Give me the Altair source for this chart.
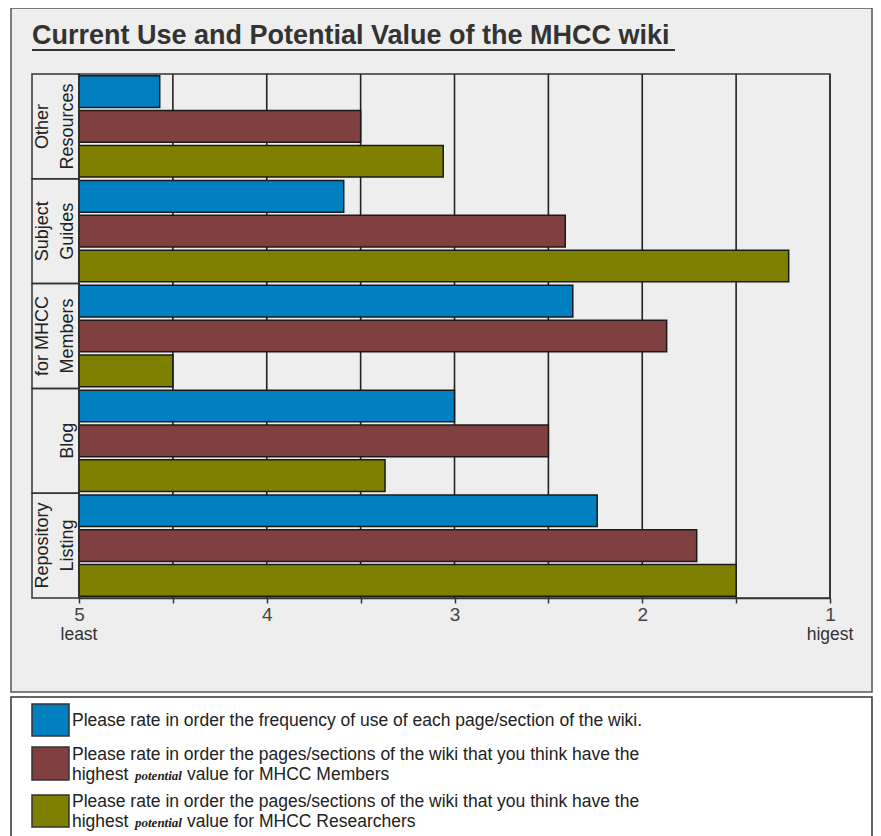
import altair as alt
import pandas as pd

# ---------------- data ----------------
categories = ["Other Resources", "Subject Guides", "for MHCC Members", "Blog", "Repository Listing"]
category_line1 = ["Other", "Subject", "for MHCC", "", "Repository"]
category_line2 = ["Resources", "Guides", "Members", "Blog", "Listing"]
series = ["use", "members", "researchers"]
series_colors = ["#0080c0", "#804040", "#808000"]
use_frequency = [4.57, 3.59, 2.37, 3.0, 2.24]
value_members = [3.5, 2.41, 1.87, 2.5, 1.71]
value_researchers = [3.06, 1.22, 4.5, 3.37, 1.5]
tick_values = [5, 4.5, 4, 3.5, 3, 2.5, 2, 1.5, 1]
end_values = [5, 1]
end_words = ["least", "higest"]
title_text = "Current Use and Potential Value of the MHCC wiki"
legend_first = [
    "Please rate in order the frequency of use of each page/section of the wiki.",
    "Please rate in order the pages/sections of the wiki that you think have the",
    "Please rate in order the pages/sections of the wiki that you think have the",
]
legend_second_pre = ["", "highest", "highest"]
legend_second_em = ["", "potential", "potential"]
legend_second_post = ["", "value for MHCC Members", "value for MHCC Researchers"]

FONT = "Liberation Sans, Arial, sans-serif"
W, H = 751, 524

rows = []
for i, c in enumerate(categories):
    for s, vals in zip(series, [use_frequency, value_members, value_researchers]):
        rows.append({"category": c, "series": s, "value": vals[i]})
bars_df = pd.DataFrame(rows)
cat_df = pd.DataFrame({"category": categories, "l1": category_line1, "l2": category_line2})
tick_df = pd.DataFrame({"t": tick_values})
end_df = pd.DataFrame({"pos": end_values, "word": end_words})
one = pd.DataFrame({"k": [0]})

xscale = alt.Scale(domain=[5, 1], nice=False, zero=False)
yscale = alt.Scale(domain=categories, paddingInner=0, paddingOuter=0)
ycat = alt.Y("category:N", sort=categories, scale=yscale, axis=None)
xaxis = alt.Axis(
    values=tick_values, grid=False, title=None, zindex=1,
    labelExpr="datum.value % 1 == 0 ? format(datum.value, 'd') : ''",
    labelFontSize=19, labelFont=FONT, labelColor="#444", labelPadding=2,
    tickSize=5, tickColor="#333", tickWidth=1.5,
    domainColor="#333", domainWidth=1.5, labelFlush=False,
)

# ---------------- layers ----------------
gray_box = alt.Chart(one).mark_rect(fill="#eeeeee", stroke="#555555", strokeWidth=1.5).encode(
    x=alt.value(-68), x2=alt.value(793), y=alt.value(-66), y2=alt.value(618))
legend_box = alt.Chart(one).mark_rect(fill="white", stroke="#333333", strokeWidth=1.5).encode(
    x=alt.value(-68), x2=alt.value(793), y=alt.value(623), y2=alt.value(775))

title = alt.Chart(one).mark_text(
    text=title_text, align="left", baseline="alphabetic", font=FONT,
    fontSize=27, fontWeight="bold", color="#333333").encode(x=alt.value(-47), y=alt.value(-30))
underline = alt.Chart(one).mark_rule(color="#333333", strokeWidth=2).encode(
    x=alt.value(-47), x2=alt.value(596), y=alt.value(-24))

grid = alt.Chart(tick_df).mark_rule(color="#222222", strokeWidth=1.6).encode(
    x=alt.X("t:Q", scale=xscale, axis=xaxis))

cells = alt.Chart(cat_df).mark_rect(fill="transparent", stroke="#333333", strokeWidth=1.5).encode(
    y=ycat, x=alt.value(-47), x2=alt.value(0))

label_kw = dict(angle=270, align="center", baseline="alphabetic", fontSize=18, font=FONT, color="#222222")
labels1 = alt.Chart(cat_df).mark_text(**label_kw).encode(
    y=alt.Y("category:N", sort=categories, scale=yscale, axis=None, bandPosition=0.5),
    x=alt.value(-31), text="l1:N")
labels2 = alt.Chart(cat_df).mark_text(**label_kw).encode(
    y=alt.Y("category:N", sort=categories, scale=yscale, axis=None, bandPosition=0.5),
    x=alt.value(-6), text="l2:N")

bars = alt.Chart(bars_df).mark_bar(stroke="#1a1a1a", strokeWidth=1.5).encode(
    x=alt.X("value:Q", scale=xscale, axis=xaxis),
    x2=alt.datum(5),
    y=ycat,
    yOffset=alt.YOffset("series:N", sort=series, scale=alt.Scale(domain=series, paddingInner=0.09, paddingOuter=0.05)),
    color=alt.Color("series:N", scale=alt.Scale(domain=series, range=series_colors), legend=None),
)

frame = alt.Chart(one).mark_rect(fill="transparent", stroke="#333333", strokeWidth=1.5).encode(
    x=alt.XDatum(5, scale=xscale, axis=xaxis), x2=alt.datum(1), y=alt.value(0), y2=alt.value(H))

ends = alt.Chart(end_df).mark_text(baseline="alphabetic", align="center", fontSize=17.5,
                                   font=FONT, color="#333333").encode(
    x=alt.X("pos:Q", scale=xscale, axis=xaxis), y=alt.value(566), text="word:N")

# legend
sw_y = [(630, 662), (673, 706), (721, 753)]
first_base = [652, 686, 733]
second_base = [None, 706, 753]
legend_layers = []
for i in range(3):
    legend_layers.append(
        alt.Chart(one).mark_rect(fill=series_colors[i], stroke="#333333", strokeWidth=1.5).encode(
            x=alt.value(-47), x2=alt.value(-10), y=alt.value(sw_y[i][0]), y2=alt.value(sw_y[i][1])))
    legend_layers.append(
        alt.Chart(one).mark_text(text=legend_first[i], align="left", baseline="alphabetic",
                                 fontSize=17.5, font=FONT, color="#222222").encode(
            x=alt.value(-7), y=alt.value(first_base[i])))
    if legend_second_pre[i]:
        legend_layers.append(
            alt.Chart(one).mark_text(text=legend_second_pre[i], align="left", baseline="alphabetic",
                                     fontSize=17.5, font=FONT, color="#222222").encode(
                x=alt.value(-7), y=alt.value(second_base[i])))
        legend_layers.append(
            alt.Chart(one).mark_text(text=legend_second_em[i], align="left", baseline="alphabetic",
                                     fontSize=13, font="Liberation Serif, serif", fontStyle="italic",
                                     fontWeight="bold", color="#222222").encode(
                x=alt.value(56), y=alt.value(second_base[i])))
        legend_layers.append(
            alt.Chart(one).mark_text(text=legend_second_post[i], align="left", baseline="alphabetic",
                                     fontSize=17.5, font=FONT, color="#222222").encode(
                x=alt.value(108), y=alt.value(second_base[i])))

chart = alt.layer(
    gray_box, legend_box, title, underline, grid, cells, labels1, labels2, bars, frame, ends, *legend_layers
).properties(
    width=W, height=H,
    autosize=alt.AutoSizeParams(type="none"),
    padding={"left": 71, "top": 66, "right": 43, "bottom": 238},
).configure_view(stroke="transparent").configure(background="white")

chart.save("out.html", embed_options={"renderer": "svg", "actions": False})
